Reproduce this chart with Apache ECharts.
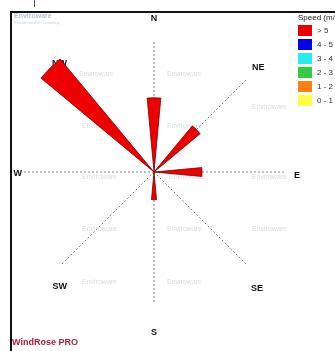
<!DOCTYPE html>
<html>
<head>
<meta charset="utf-8">
<script src="https://cdn.jsdelivr.net/npm/echarts@6/dist/echarts.min.js"></script>
<style>html,body{margin:0;padding:0;background:#fff}#c{width:335px;height:351px}</style>
</head>
<body>
<div id="c"></div>
<script>
// ---- data ----
var directions16 = ['N','NNE','NE','ENE','E','ESE','SE','SSE','S','SSW','SW','WSW','W','WNW','NW','NNW'];
var compassLabels = ['N','NE','E','SE','S','SW','W','NW'];
var speedClasses = ['0 - 1','1 - 2','2 - 3','3 - 4','4 - 5','> 5'];
var speedColors = ['#ffff44','#ff8010','#33cc44','#22eeee','#0000ee','#ee0000'];
// frequency (%) per direction for each speed class
var freq_0_1 = [0,0,0,0,0,0,0,0,0,0,0,0,0,0,0,0];
var freq_1_2 = [0,0,0,0,0,0,0,0,0,0,0,0,0,0,0,0];
var freq_2_3 = [0,0,0,0,0,0,0,0,0,0,0,0,0,0,0,0];
var freq_3_4 = [0,0,0,0,0,0,0,0,0,0,0,0,0,0,0,0];
var freq_4_5 = [0,0,0,0,0,0,0,0,0,0,0,0,0,0,0,0];
var freq_gt5 = [9.9,0,8.0,0,6.4,0,0,0,3.7,0,0,0,0,0,19.6,0];
var freqBySpeed = [freq_0_1, freq_1_2, freq_2_3, freq_3_4, freq_4_5, freq_gt5];

var chart = echarts.init(document.getElementById('c'));
var cx = 154, cy = 172;

var series = speedClasses.map(function (name, i) {
  return {
    type: 'bar', name: name, coordinateSystem: 'polar', polarIndex: 1,
    stack: 'wind', data: freqBySpeed[i], barWidth: '47%',
    itemStyle: { color: speedColors[i], borderColor: '#7a0000', borderWidth: 0.8 },
    emphasis: { disabled: true }, silent: true
  };
});

var watermarks = [];
var wmPos = [[97,75],[185,75],[270,108],[100,127],[185,127],[100,178],[187,178],[270,178],[100,230],[185,230],[270,230],[100,283],[185,283]];
wmPos.forEach(function (p) {
  watermarks.push({ type: 'text', left: p[0] - 18, top: p[1] - 4, silent: true,
    style: { text: 'Enviroware', fill: '#d6dce6', font: '7px "Liberation Sans", sans-serif' } });
});

var base = { color: '#111', fontWeight: 'bold', fontSize: 9, fontFamily: 'Liberation Sans' };
function rs(pad) { return Object.assign({ padding: pad }, base); }
// padding [top, right, bottom, left]
var labelRich = {
  N: rs([0, 0, 26, 0]),
  NE: rs([0, 0, 13, 11]),
  E: rs([8, 0, 0, 17]),
  SE: rs([25, 0, 0, 10]),
  S: rs([33, 0, 0, 0]),
  SW: rs([23, 0, 0, 0]),
  W: rs([4, 9, 0, 0]),
  NW: rs([0, 0, 17, 0])
};

chart.setOption({
  animation: false,
  backgroundColor: '#fff',
  polar: [
    { center: [cx, cy], radius: 130 },
    { center: [cx, cy], radius: 150 }
  ],
  angleAxis: [
    { polarIndex: 0, type: 'value', min: 0, max: 360, interval: 45, startAngle: 90, clockwise: true,
      axisLine: { show: false }, axisTick: { show: false },
      axisLabel: { margin: -7, rich: labelRich,
        color: '#111', fontWeight: 'bold', fontSize: 9, fontFamily: 'Liberation Sans',
        formatter: function (v) {
          if (v >= 360) return '';
          var d = compassLabels[Math.round(v / 45)];
          return '{' + d + '|' + d + '}';
        } },
      splitLine: { show: true, lineStyle: { color: '#8a8a8a', width: 1, type: [2, 2] } } },
    { polarIndex: 1, type: 'category', data: directions16, startAngle: 101.25, clockwise: true,
      axisLine: { show: false }, axisTick: { show: false }, axisLabel: { show: false }, splitLine: { show: false } }
  ],
  radiusAxis: [
    { polarIndex: 0, type: 'value', min: 0, max: 20, show: false, splitLine: { show: false } },
    { polarIndex: 1, type: 'value', min: 0, max: 20, show: false, splitLine: { show: false } }
  ],
  legend: {
    data: speedClasses.slice().reverse(), orient: 'vertical', left: 298, top: 25, padding: 0,
    itemWidth: 14, itemHeight: 11, itemGap: 3, icon: 'rect', selectedMode: false,
    itemStyle: { borderWidth: 0 },
    textStyle: { fontSize: 8, color: '#333', fontFamily: 'Liberation Sans' }
  },
  graphic: watermarks.concat([
    { type: 'line', silent: true, shape: { x1: 10, y1: 12, x2: 335, y2: 12 }, style: { stroke: '#111', lineWidth: 2 } },
    { type: 'line', silent: true, shape: { x1: 11, y1: 12, x2: 11, y2: 351 }, style: { stroke: '#111', lineWidth: 2 } },
    { type: 'line', silent: true, shape: { x1: 34.5, y1: 0, x2: 34.5, y2: 7 }, style: { stroke: '#555', lineWidth: 1 } },
    { type: 'text', left: 14, top: 13, silent: true, style: { text: 'Enviroware', fill: '#b8c4d8', font: 'bold 7px "Liberation Sans", sans-serif' } },
    { type: 'text', left: 14, top: 21, silent: true, style: { text: 'Environmental Consulting', fill: '#c8d0dc', font: '4px "Liberation Sans", sans-serif' } },
    { type: 'text', left: 298, top: 14, silent: true, style: { text: 'Speed (m/s)', fill: '#222', font: '8px "Liberation Sans", sans-serif' } },
    { type: 'text', left: 12, top: 338, silent: true, style: { text: 'WindRose PRO', fill: '#b0203a', font: 'bold 9px "Liberation Sans", sans-serif' } }
  ]),
  series: series
});
</script>
</body>
</html>
